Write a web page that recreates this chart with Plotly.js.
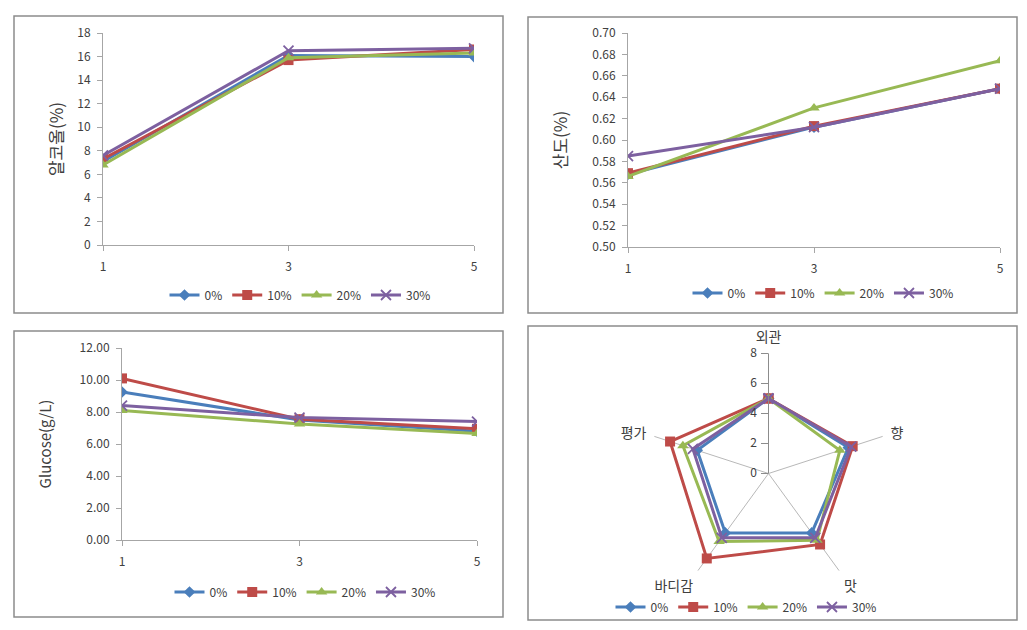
<!DOCTYPE html>
<html>
<head>
<meta charset="utf-8">
<script src="https://cdn.plot.ly/plotly-3.0.1.min.js"></script>
<style>html,body{margin:0;padding:0;background:#fff;}#chart{width:1027px;height:630px;}</style>
</head>
<body>
<div id="chart"></div>
<script>
// ---- data ----
const days = ['1', '3', '5'];
const seriesNames = ['0%', '10%', '20%', '30%'];

// alcohol (%)
const alc0 = [7.1, 16.1, 16.0];
const alc10 = [7.3, 15.7, 16.6];
const alc20 = [6.8, 15.9, 16.3];
const alc30 = [7.6, 16.5, 16.7];

// acidity (%)
const acid0 = [0.568, 0.612, 0.648];
const acid10 = [0.569, 0.613, 0.648];
const acid20 = [0.566, 0.630, 0.674];
const acid30 = [0.585, 0.612, 0.648];

// glucose (g/L)
const glu0 = [9.25, 7.50, 6.80];
const glu10 = [10.10, 7.55, 6.95];
const glu20 = [8.10, 7.25, 6.65];
const glu30 = [8.40, 7.65, 7.40];

// sensory
const sensoryCats = ['외관', '향', '맛', '바디감', '평가'];
const sens0 = [5.0, 5.6, 4.9, 4.9, 5.0];
const sens10 = [5.0, 5.9, 5.85, 7.0, 6.9];
const sens20 = [5.0, 5.0, 5.5, 5.6, 6.0];
const sens30 = [5.0, 5.8, 5.3, 5.3, 5.3];

// ---- styles ----
const colors = ['#4A7EBB', '#BE4B48', '#98B954', '#7D60A0'];
const symbols = ['diamond', 'square', 'triangle-up', 'x-thin-open'];
const msizes = [9, 10, 10, 10];
const W = 1027, H = 630;
const px = v => v / W;
const py = v => 1 - v / H;
const axisColor = '#a6a6a6';
const FONT = 'Noto Sans CJK KR, sans-serif';
const tickFont = {family: FONT, size: 12, color: '#404040'};

function mk(i) {
  return {symbol: symbols[i], size: msizes[i], color: colors[i],
          line: {color: colors[i], width: i === 3 ? 1.8 : 0}};
}
function lineTraces(sets, xa, ya, leg) {
  return sets.map((vals, i) => ({
    type: 'scatter', mode: 'lines+markers', x: days, y: vals,
    name: seriesNames[i], xaxis: xa, yaxis: ya, legend: leg,
    line: {color: colors[i], width: 3}, marker: mk(i)
  }));
}

const traces = [].concat(
  lineTraces([alc0, alc10, alc20, alc30], 'x', 'y', 'legend'),
  lineTraces([acid0, acid10, acid20, acid30], 'x2', 'y2', 'legend2'),
  lineTraces([glu0, glu10, glu20, glu30], 'x3', 'y3', 'legend3'),
  [sens0, sens10, sens20, sens30].map((vals, i) => ({
    type: 'scatterpolar', mode: 'lines+markers',
    r: vals.concat([vals[0]]), theta: sensoryCats.concat([sensoryCats[0]]),
    name: seriesNames[i], subplot: 'polar', legend: 'legend4',
    line: {color: colors[i], width: 3}, marker: mk(i)
  }))
);

function xax(dom, anchor) {
  return {domain: dom, anchor: anchor, type: 'category', range: [0, 2],
    showline: true, linecolor: axisColor, linewidth: 1, ticks: 'outside', ticklen: 5,
    tickcolor: axisColor, showgrid: false, zeroline: false, tickfont: tickFont,
    ticklabelstandoff: 6, fixedrange: true};
}
function yax(dom, anchor, range, dtick, fmt, title, tsize, standoff) {
  return {domain: dom, anchor: anchor, range: range, dtick: dtick, tickformat: fmt,
    showline: true, linecolor: axisColor, linewidth: 1, ticks: 'outside', ticklen: 5,
    tickcolor: axisColor, showgrid: false, zeroline: false, tickfont: tickFont,
    ticklabelstandoff: 4,
    title: {text: title, font: {family: FONT, size: tsize, color: '#404040'}, standoff: standoff},
    fixedrange: true};
}
function legendAt(cx, cy) {
  return {orientation: 'h', x: px(cx), xanchor: 'center', y: py(cy), yanchor: 'middle',
    font: {family: FONT, size: 12, color: '#404040'},
    bgcolor: 'rgba(0,0,0,0)', itemwidth: 30, tracegroupgap: 0, traceorder: 'normal'};
}
function border(x0, y0, x1, y1) {
  return {type: 'rect', xref: 'paper', yref: 'paper', x0: px(x0), x1: px(x1), y0: py(y1), y1: py(y0),
    line: {color: '#8c8c8c', width: 1.5}, fillcolor: 'rgba(0,0,0,0)', layer: 'below'};
}

const layout = {
  width: W, height: H, margin: {l: 0, r: 0, t: 0, b: 0},
  paper_bgcolor: '#ffffff', plot_bgcolor: '#ffffff',
  font: {family: FONT, color: '#404040'},
  xaxis: xax([px(103), px(474)], 'y'),
  yaxis: yax([py(245), py(33)], 'x', [0, 18], 2, 'd', '알코올(%)', 17, 9),
  xaxis2: xax([px(628), px(1000)], 'y2'),
  yaxis2: yax([py(247), py(33)], 'x2', [0.5, 0.7], 0.02, '.2f', '산도(%)', 17, 20),
  xaxis3: xax([px(122), px(477)], 'y3'),
  yaxis3: yax([py(540), py(348)], 'x3', [0, 12], 2, '.2f', 'Glucose(g/L)', 15, 24),
  polar: {
    domain: {x: [px(648.5), px(888.5)], y: [py(593.5), py(353.5)]},
    bgcolor: '#ffffff', gridshape: 'linear',
    radialaxis: {range: [0, 8], tickvals: [0, 2, 4, 6, 8], angle: 90, tickangle: 90,
      side: 'counterclockwise', showline: true, linecolor: '#8c8c8c', linewidth: 1,
      ticks: 'outside', ticklen: 7, tickcolor: '#8c8c8c', showgrid: false,
      tickfont: {family: FONT, size: 12, color: '#404040'}},
    angularaxis: {direction: 'clockwise', rotation: 90, type: 'category',
      categoryarray: sensoryCats, showline: false, showgrid: true, gridcolor: '#b8b8b8',
      gridwidth: 1, ticks: 'outside', ticklen: 5, tickcolor: 'rgba(0,0,0,0)',
      tickfont: {family: FONT, size: 14, color: '#404040'}}
  },
  legend: legendAt(300, 295),
  legend2: legendAt(823, 293),
  legend3: legendAt(305, 592),
  legend4: legendAt(746, 607),
  shapes: [border(14, 16, 503, 313), border(528, 17, 1017, 313),
           border(14, 331, 503, 617), border(528, 326, 1017, 620)],
  showlegend: true
};

Plotly.newPlot('chart', traces, layout, {displayModeBar: false, staticPlot: true});
</script>
</body>
</html>
